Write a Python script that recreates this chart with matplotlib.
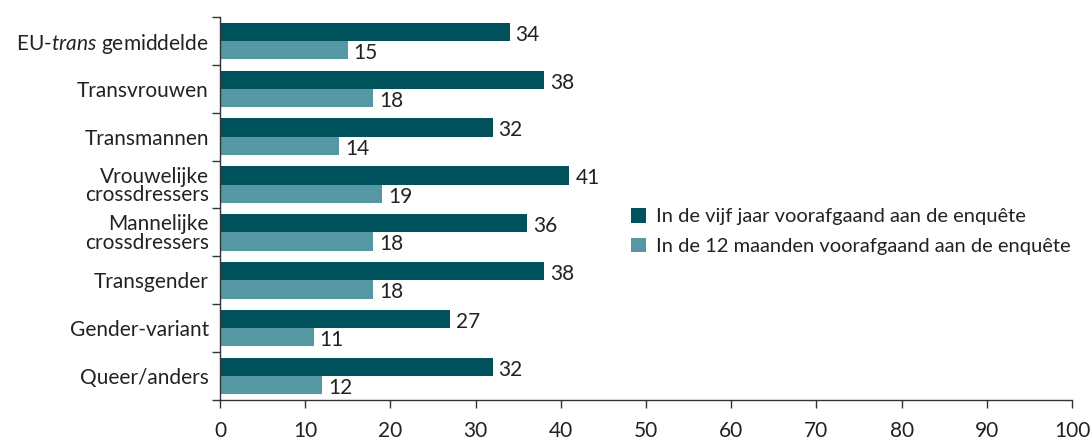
import numpy as np
import matplotlib
matplotlib.use('Agg')
import matplotlib.pyplot as plt
from matplotlib.ticker import FixedLocator

# data
categories = ['EU-$\\mathit{trans}$ gemiddelde', 'Transvrouwen', 'Transmannen',
              'Vrouwelijke\ncrossdressers', 'Mannelijke\ncrossdressers',
              'Transgender', 'Gender-variant', 'Queer/anders']
five_years = [34, 38, 32, 41, 36, 38, 27, 32]
twelve_months = [15, 18, 14, 19, 18, 18, 11, 12]
series_labels = ['In de vijf jaar voorafgaand aan de enquête',
                 'In de 12 maanden voorafgaand aan de enquête']

dark = '#00525c'
light = '#5597a3'
txt = '#222222'
fs = 15

plt.rcParams['font.family'] = ['Lato', 'DejaVu Sans']
plt.rcParams['mathtext.fontset'] = 'custom'
plt.rcParams['mathtext.it'] = 'Lato:italic'
plt.rcParams['mathtext.rm'] = 'Lato'

fig = plt.figure(figsize=(10.91, 4.44), dpi=100)
ax = fig.add_axes([220 / 1091, 1 - 400 / 444, 852 / 1091, 383 / 444])

y = np.arange(len(categories))
h = 0.38
b1 = ax.barh(y - h / 2, five_years, height=h, color=dark, label=series_labels[0])
b2 = ax.barh(y + h / 2, twelve_months, height=h, color=light, label=series_labels[1])

for bars, vals in ((b1, five_years), (b2, twelve_months)):
    for bar, v in zip(bars, vals):
        ax.text(v + 0.7, bar.get_y() + bar.get_height() / 2 + 0.06, str(v),
                va='center', ha='left', fontsize=fs, color=txt)

ax.set_xlim(0, 100)
ax.set_ylim(len(categories) - 0.5, -0.5)
ax.set_xticks(np.arange(0, 101, 10))
ax.set_yticks(y)
ax.set_yticklabels(categories, fontsize=fs, color=txt, linespacing=0.9)
ax.yaxis.set_minor_locator(FixedLocator(np.arange(-0.5, len(categories), 1)))
ax.tick_params(axis='y', which='major', length=0, pad=8)
ax.tick_params(axis='y', which='minor', length=6, width=1, color='#333333')
ax.tick_params(axis='x', length=6, width=1, color='#333333', labelsize=fs,
               labelcolor=txt, pad=9)
for s in ('top', 'right'):
    ax.spines[s].set_visible(False)
for s in ('left', 'bottom'):
    ax.spines[s].set_color('#333333')
    ax.spines[s].set_linewidth(1)

ax.legend(loc='center left', bbox_to_anchor=(411 / 852, 0.44), frameon=False,
          fontsize=14.5, handlelength=0.75, handleheight=0.75, handletextpad=0.5,
          labelspacing=0.6, labelcolor=txt, borderaxespad=0, borderpad=0)

fig.savefig('out.png', dpi=100)
